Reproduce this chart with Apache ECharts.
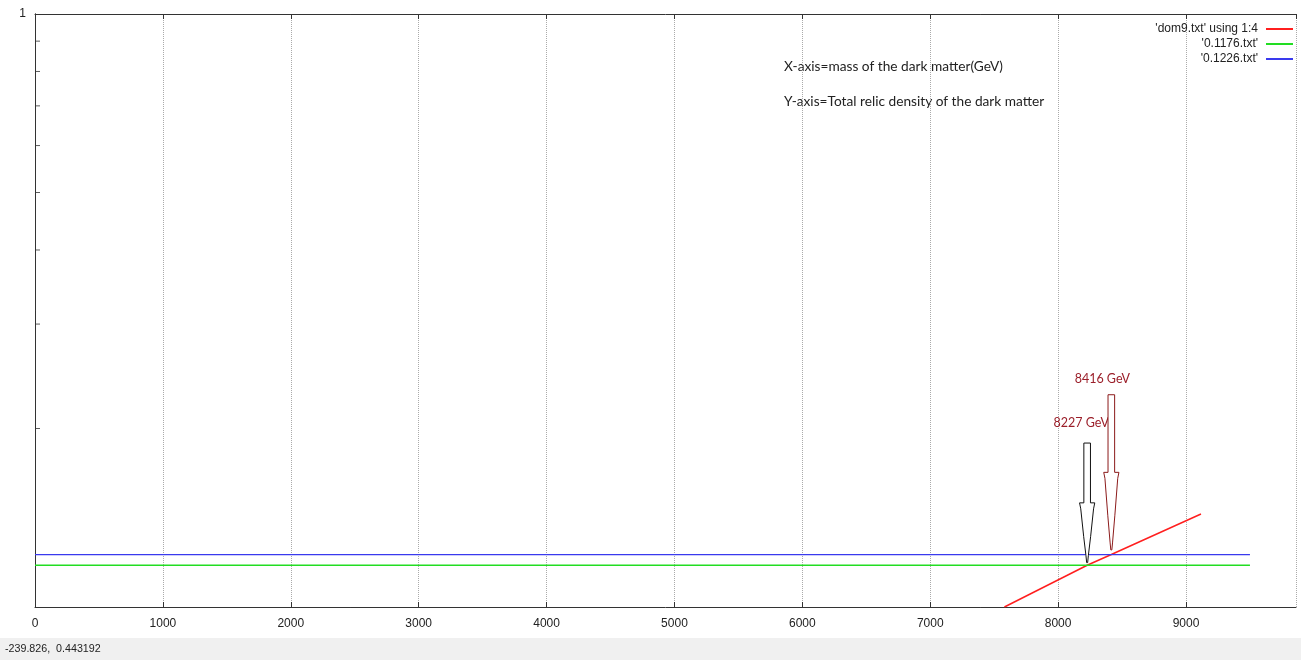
<!DOCTYPE html>
<html>
<head>
<meta charset="utf-8">
<script src="https://cdn.jsdelivr.net/npm/echarts@6/dist/echarts.min.js"></script>
<style>
  html, body { margin: 0; padding: 0; background: #fff; }
  #chart { width: 1301px; height: 660px; }
</style>
</head>
<body>
<div id="chart"></div>
<script>
  // relic density curve, dom9.txt using 1:4
  const massX = [7580, 8227, 8416, 9117]
  const relicY = [0.100, 0.1176, 0.1226, 0.1435]
  // the two Planck bounds
  const lowBound = 0.1176
  const highBound = 0.1226
  const boundX = [0, 9500]
  // minor log ticks on the y axis
  const yMinorTicks = [0.2, 0.3, 0.4, 0.5, 0.6, 0.7, 0.8, 0.9]
  const legendNames = ["'dom9.txt' using 1:4", "'0.1176.txt'", "'0.1226.txt'"]
  // arrows pointing at the crossings: mass, tip value, tail value
  const arrowMass = [8227, 8416]
  const arrowTip = [0.1188, 0.1248]
  const arrowTail = [0.189, 0.228]
  const arrowLabel = ['8227 GeV', '8416 GeV']

  const xMin = 0, xMax = 9860, xStep = 1000
  const yMin = 0.1, yMax = 1

  const axisColor = '#333'
  const font = 'Liberation Sans'
  const arrowColors = ['#111', '#8b1a1a']

  const chartInstance = echarts.init(document.getElementById('chart'))

  function renderArrow(params, api) {
    const idx = params.dataIndex
    const tip = api.coord([api.value(0), api.value(1)])
    const tail = api.coord([api.value(0), api.value(2)])
    const x = tip[0]
    const top = tail[1]
    const h = tip[1] - top
    const headY = top + h * 0.5 // where the head starts
    const sw = 3.3 // half width of the shaft
    const hw = 7.6 // half width of the head
    const pts = [
      [x - sw, top], [x + sw, top], [x + sw, headY],
      [x + hw, headY], [x + hw - 1.2, headY + 6],
      [x + 3.5, headY + h * 0.28], [x + 1.2, tip[1] - 7],
      [x + 0.5, tip[1]], [x - 0.5, tip[1]],
      [x - 1.2, tip[1] - 7], [x - 3.5, headY + h * 0.28],
      [x - hw + 1.2, headY + 6], [x - hw, headY], [x - sw, headY]
    ]
    return {
      type: 'group',
      children: [
        {
          type: 'polygon',
          shape: { points: pts },
          style: { fill: '#fff', stroke: arrowColors[idx], lineWidth: 1 }
        },
        {
          type: 'text',
          x: x + (idx === 0 ? -6 : -9),
          y: top - (idx === 0 ? 20 : 16),
          style: {
            text: arrowLabel[idx],
            fill: '#9b1f2a',
            font: '12.5px Lato',
            align: 'center',
            verticalAlign: 'middle'
          }
        }
      ]
    }
  }

  const option = {
    animation: false,
    textStyle: { fontFamily: font },
    grid: { left: 35, right: 5, top: 14, bottom: 53 },
    legend: {
      data: legendNames,
      orient: 'vertical',
      right: 3,
      top: 18,
      align: 'right',
      itemWidth: 27,
      itemHeight: 2,
      itemGap: 3,
      icon: 'rect',
      textStyle: { fontSize: 12, color: '#222', fontFamily: font, padding: [0, 3, 0, 0] },
      selectedMode: false
    },
    xAxis: [
      {
        type: 'value',
        min: xMin,
        max: xMax,
        interval: xStep,
        axisLine: { show: true, lineStyle: { color: axisColor } },
        axisTick: { show: true, inside: true, length: 5, lineStyle: { color: axisColor } },
        axisLabel: { color: '#222', fontSize: 12, margin: 11, showMaxLabel: false,
          formatter: v => (v % xStep === 0 ? String(v) : '') },
        splitLine: { show: true, lineStyle: { color: '#aaa', type: 'dotted' } }
      },
      {
        type: 'value',
        position: 'top',
        min: xMin,
        max: xMax,
        interval: xStep,
        axisLine: { show: true, lineStyle: { color: axisColor } },
        axisTick: { show: true, inside: true, length: 5, lineStyle: { color: axisColor } },
        axisLabel: { show: false },
        splitLine: { show: false }
      }
    ],
    yAxis: [
      {
        type: 'log',
        logBase: 10,
        min: yMin,
        max: yMax,
        axisLine: { show: true, lineStyle: { color: axisColor } },
        axisTick: { show: true, inside: true, length: 5, lineStyle: { color: axisColor } },
        axisLabel: { color: '#222', fontSize: 12, margin: 9,
          formatter: v => (v >= 1 ? '1' : '') },
        splitLine: { show: false }
      },
      {
        type: 'log',
        logBase: 10,
        position: 'right',
        min: yMin,
        max: yMax,
        axisLine: { show: true, lineStyle: { color: axisColor } },
        axisTick: { show: false },
        axisLabel: { show: false },
        splitLine: { show: false }
      }
    ],
    series: [
      {
        name: legendNames[0],
        type: 'line',
        symbol: 'none',
        color: '#ff1f1f',
        lineStyle: { width: 1.5, color: '#ff1f1f' },
        data: massX.map((m, i) => [m, relicY[i]])
      },
      {
        name: legendNames[1],
        type: 'line',
        symbol: 'none',
        color: '#22dd22',
        lineStyle: { width: 1.3, color: '#22dd22' },
        data: boundX.map(x => [x, lowBound])
      },
      {
        name: legendNames[2],
        type: 'line',
        symbol: 'none',
        color: '#3a3aee',
        lineStyle: { width: 1.3, color: '#3a3aee' },
        data: boundX.map(x => [x, highBound])
      },
      {
        type: 'scatter',
        silent: true,
        symbol: 'rect',
        symbolSize: [5, 1],
        symbolOffset: [2.5, 0],
        itemStyle: { color: axisColor },
        data: yMinorTicks.map(v => [xMin, v])
      },
      {
        type: 'custom',
        silent: true,
        clip: false,
        renderItem: renderArrow,
        data: arrowMass.map((m, i) => [m, arrowTip[i], arrowTail[i]]),
        z: 5
      }
    ],
    graphic: [
      {
        type: 'text', left: 784, top: 60,
        style: { text: 'X-axis=mass of the dark matter(GeV)', fill: '#222', font: '13.7px Lato' }
      },
      {
        type: 'text', left: 784, top: 95,
        style: { text: 'Y-axis=Total relic density of the dark matter', fill: '#222', font: '13.7px Lato' }
      },
      {
        type: 'rect', left: 0, top: 638,
        shape: { width: 1301, height: 22 },
        style: { fill: '#f0f0f0' }
      },
      {
        type: 'text', left: 5, top: 644,
        style: { text: '-239.826,  0.443192', fill: '#222', font: '10.7px "Liberation Sans"' }
      }
    ]
  }
  chartInstance.setOption(option)
</script>
</body>
</html>
